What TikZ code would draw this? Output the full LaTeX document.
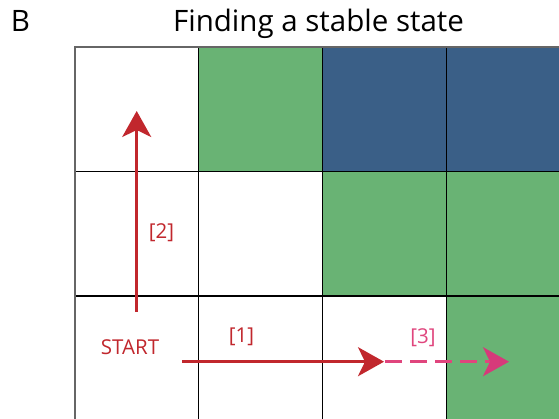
\documentclass[tikz,border=0pt]{standalone}
\usepackage{fontspec}
\setmainfont{Open Sans}
\usetikzlibrary{arrows.meta}
\definecolor{cellgreen}{RGB}{105,179,116}
\definecolor{cellblue}{RGB}{58,95,135}
\definecolor{pathred}{RGB}{193,39,45}
\definecolor{pathpink}{RGB}{224,69,125}
\definecolor{tippink}{RGB}{214,58,122}
\tikzset{
  green cell/.style={fill=cellgreen},
  blue cell/.style={fill=cellblue},
  gridline/.style={line width=1.8pt, black},
  outerline/.style={line width=1.8pt, black!60},
  move/.style={line width=2.6pt, pathred, -{Stealth[length=26pt, width=29pt, inset=7pt]}},
  trial/.style={line width=2.5pt, pathpink, dash pattern=on 16.5pt off 8.5pt,
    -{Stealth[length=26pt, width=29pt, inset=7pt, color=tippink]}},
  steplabel/.style={text=pathred, font=\fontsize{20.5}{24}\selectfont, inner sep=0pt},
  triallabel/.style={text=pathpink, font=\fontsize{20.5}{24}\selectfont, inner sep=0pt},
  heading/.style={font=\fontsize{29.5}{34}\selectfont, anchor=base, inner sep=0pt}
}
\begin{document}
\begin{tikzpicture}[x=1pt, y=-1pt]
\useasboundingbox (0,0) rectangle (559,419);
\fill[white] (0,0) rectangle (559,419);

% coloured cells of the grid
\fill[green cell] (198.5,47) rectangle (322.5,171.5);
\fill[blue cell]  (322.5,47) rectangle (446.5,171.5);
\fill[blue cell]  (446.5,47) rectangle (560,171.5);
\fill[green cell] (322.5,171.5) rectangle (446.5,296);
\fill[green cell] (446.5,171.5) rectangle (560,296);
\fill[green cell] (446.5,296) rectangle (560,420);

% grid lines
\foreach \x in {198.5,322.5,446.5} \draw[gridline] (\x,47) -- (\x,420);
\foreach \y in {171.5,296} \draw[gridline] (75,\y) -- (560,\y);
\draw[outerline] (75,420) -- (75,47) -- (560,47);

% headings
\node[heading] (title) at (318.5,32) {Finding a stable state};
\node[heading] (panel) at (20.5,32) {B};

% path of moves
\coordinate (upstart) at (136.7,312);
\coordinate (upend) at (136.7,111);
\coordinate (rstart) at (182,361.7);
\coordinate (rend) at (384,361.7);
\coordinate (tstart) at (385,361.7);
\coordinate (tend) at (509,361.7);
\draw[move] (upstart) -- (upend);
\draw[trial] (tstart) -- (tend);
\draw[move] (rstart) -- (rend);

% labels
\node[steplabel] (start) at (130,347) {START};
\node[steplabel] (one) at (241.5,337) {[1]};
\node[steplabel] (two) at (161.5,233) {[2]};
\node[triallabel] (three) at (423,338) {[3]};
\end{tikzpicture}
\end{document}
